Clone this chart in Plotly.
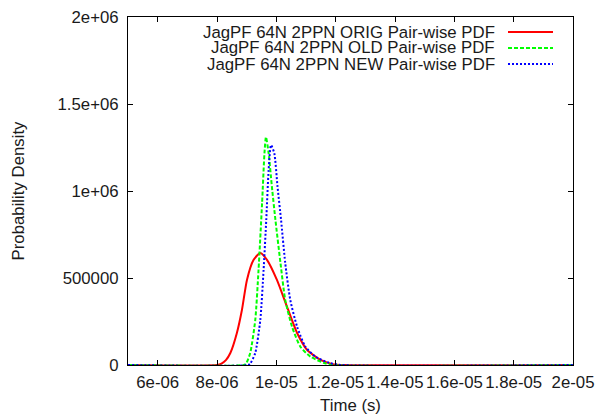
import plotly.graph_objects as go

# ---- data ----
orig_t = [5.0e-6, 8.0e-6, 8.15e-6, 8.30e-6, 8.45e-6, 8.67e-6, 8.84e-6, 9.01e-6, 9.23e-6, 9.46e-6,
          9.69e-6, 10.02e-6, 10.36e-6, 10.70e-6, 11.04e-6, 11.49e-6, 11.90e-6, 12.3e-6, 2.0e-5]
orig_v = [0, 0, 8000, 28000, 69000, 184000, 316000, 489000, 603000, 644000,
          603000, 489000, 335000, 184000, 86000, 29000, 5000, 0, 0]

old_t = [5.0e-6, 8.9e-6, 8.98e-6, 9.12e-6, 9.29e-6, 9.40e-6, 9.52e-6, 9.60e-6, 9.65e-6,
         9.74e-6, 9.85e-6, 9.97e-6, 10.14e-6, 10.30e-6, 10.53e-6, 10.81e-6, 11.15e-6,
         11.59e-6, 11.9e-6, 2.0e-5]
old_v = [0, 0, 8000, 69000, 259000, 546000, 931000, 1218000, 1310000,
         1218000, 1025000, 833000, 586000, 374000, 220000, 105000, 48000,
         13000, 0, 0]

new_t = [5.0e-6, 9.05e-6, 9.12e-6, 9.29e-6, 9.46e-6, 9.57e-6, 9.66e-6, 9.74e-6, 9.82e-6,
         9.93e-6, 10.04e-6, 10.16e-6, 10.30e-6, 10.47e-6, 10.70e-6, 10.98e-6, 11.32e-6,
         11.77e-6, 12.2e-6, 2.0e-5]
new_v = [0, 0, 8000, 69000, 259000, 546000, 833000, 1120000, 1264000,
         1218000, 1025000, 833000, 586000, 374000, 220000, 105000, 48000,
         13000, 0, 0]

series_names = ["JagPF 64N 2PPN ORIG Pair-wise PDF",
                "JagPF 64N 2PPN OLD Pair-wise PDF",
                "JagPF 64N 2PPN NEW Pair-wise PDF"]
series_colors = ["#ff0000", "#00ff00", "#0000ff"]
series_dash = ["solid", "4px,2px", "2px,2px"]

x_tickvals = [6e-6, 8e-6, 1e-5, 1.2e-5, 1.4e-5, 1.6e-5, 1.8e-5, 2e-5]
x_ticktext = ["6e-06", "8e-06", "1e-05", "1.2e-05", "1.4e-05", "1.6e-05", "1.8e-05", "2e-05"]
y_tickvals = [0, 500000, 1000000, 1500000, 2000000]
y_ticktext = ["0", "500000", "1e+06", "1.5e+06", "2e+06"]

FONT = "Liberation Sans, Arial, sans-serif"
FS = 16.8
TXT = "#1a1a1a"

fig = go.Figure()
for t, v, name, col, dash in zip([orig_t, old_t, new_t], [orig_v, old_v, new_v],
                                 series_names, series_colors, series_dash):
    fig.add_trace(go.Scatter(x=t, y=v, mode="lines", name=name,
                             line=dict(color=col, width=2, dash=dash, shape="spline",
                                       smoothing=0.6),
                             showlegend=False))

# gnuplot-style legend: right-aligned text, sample line to the right
W, H = 599, 415
ml, mr, mt, mb = 128, 26, 17, 50
pw, ph = W - ml - mr, H - mt - mb
def px(x):
    return (x - ml) / pw
def py(y):
    return 1 - (y - mt) / ph

rows_y = [32, 48, 64]
for yy, name, col, dash in zip(rows_y, series_names, series_colors, series_dash):
    fig.add_annotation(x=px(496), y=py(yy), xref="paper", yref="paper", text=name,
                       showarrow=False, xanchor="right", yanchor="middle",
                       borderpad=0, font=dict(family=FONT, size=FS, color=TXT))
    fig.add_shape(type="line", xref="paper", yref="paper",
                  x0=px(508), x1=px(553), y0=py(yy), y1=py(yy),
                  line=dict(color=col, width=2, dash=dash))

axis_common = dict(showline=True, linecolor="black", linewidth=1, mirror="ticks",
                   ticks="inside", ticklen=5, tickcolor="black", showgrid=False,
                   zeroline=False, automargin=False,
                   tickfont=dict(family=FONT, size=FS, color=TXT))

fig.update_layout(
    width=W, height=H,
    margin=dict(l=ml, r=mr, t=mt, b=mb, autoexpand=False),
    paper_bgcolor="white", plot_bgcolor="white",
    xaxis=dict(range=[5e-6, 2e-5], tickmode="array", tickvals=x_tickvals,
               ticktext=x_ticktext, ticklabelstandoff=2,
               title=dict(text="Time (s)", font=dict(family=FONT, size=FS, color=TXT),
                          standoff=10),
               **axis_common),
    yaxis=dict(range=[0, 2e6], tickmode="array", tickvals=y_tickvals,
               ticktext=y_ticktext, ticklabelstandoff=5,
               title=dict(text="Probability Density",
                          font=dict(family=FONT, size=FS, color=TXT), standoff=28),
               **axis_common),
    showlegend=False,
)

fig.write_html("out.html")
